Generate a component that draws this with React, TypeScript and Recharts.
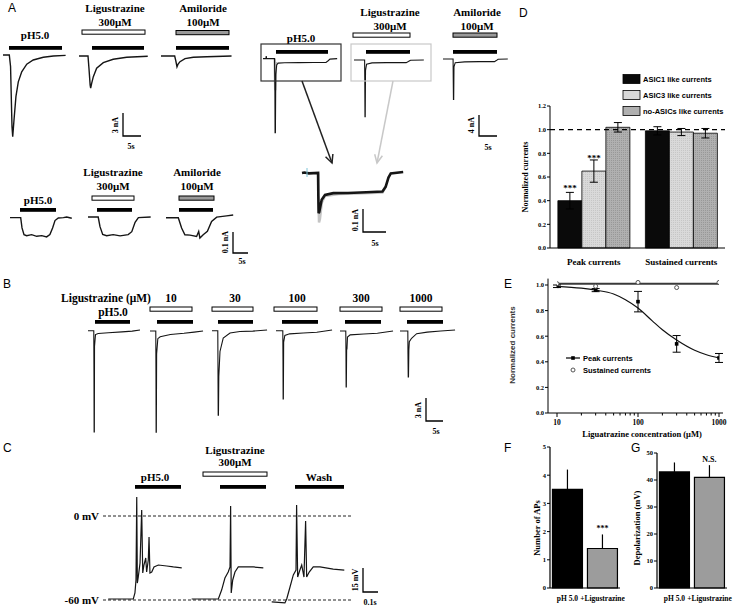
import React from "react";
import { LineChart, Line, XAxis, YAxis, BarChart, Bar, Cell, ErrorBar, ReferenceLine, LabelList } from "recharts";

const SERIF = '"Liberation Serif", "Times New Roman", serif';
const SANS = '"Liberation Sans", Arial, sans-serif';
const INK = "#151515";

type P = [number, number]; // [time s, value]

// ---- A (top): pH 5.0 / ligustrazine / amiloride, nA
const aPh: P[] = [[0, 0], [1.75, 0], [2.1, -1.5], [2.5, -9.35], [2.7, -10.65], [3.05, -8.5], [3.6, -5.4], [4.25, -3.5], [5.2, -2.2], [6.6, -1.2], [8.4, -0.65], [11.2, -0.3], [14, -0.13], [17.4, -0.05]];
const aLig: P[] = [[0, 0], [2.5, 0], [2.75, -1.5], [3.1, -3.8], [3.24, -4.2], [3.5, -3.6], [3.98, -2.7], [4.9, -1.6], [6.75, -0.87], [9.5, -0.43], [13.25, -0.17], [19.1, -0.04]];
const aAmi: P[] = [[0, 0], [3.8, 0], [4.1, -0.6], [4.44, -1.4], [4.7, -1.1], [5.28, -0.74], [6.67, -0.35], [8.97, -0.17], [12.7, -0.09], [19.6, 0]];

// ---- A (right): biphasic currents
const arPh: P[] = [[0, 0], [0.8, 0], [0.9, 0.5], [1.0, 0], [3.2, 0], [3.3, -5], [3.35, -14.1], [3.45, -14.1], [3.55, -3], [3.8, -1.2], [4.2, -0.85], [6, -0.78], [10, -0.76], [14, -0.74], [17.5, -0.72], [18.1, -0.4], [18.6, -0.1], [20.6, 0]];
const arPhGray: P[] = [[3.25, 0], [3.4, -6], [3.6, -1], [4, -0.8]];
const arLig: P[] = [[0, 0], [2.95, 0], [3.0, -4], [3.05, -10.8], [3.12, -10.8], [3.2, -2], [3.5, -0.8], [5, -0.55], [9, -0.5], [14.5, -0.5], [15.1, -0.3], [15.7, -0.05], [19.4, 0]];
const arAmi: P[] = [[0, 0], [2.8, 0], [2.85, -4], [2.9, -7.7], [2.97, -7.7], [3.05, -1.5], [3.4, -0.7], [6, -0.55], [10, -0.5], [14.3, -0.5], [14.8, -0.3], [15.3, -0.05], [18, 0]];
const insetGray: P[] = [[3.5, 0], [3.55, -0.1], [3.7, -0.215], [3.9, -0.2], [4.3, -0.13], [5, -0.1], [8, -0.092], [12, -0.09], [17.5, -0.085], [18.2, -0.06]];
const insetBlack: P[] = [[0, 0], [0.5, 0.002], [1.5, -0.002], [3.5, 0], [3.55, -0.1], [3.62, -0.175], [3.75, -0.17], [4.28, -0.117], [5, -0.096], [6.8, -0.088], [10, -0.087], [14, -0.084], [17.5, -0.081], [18.2, -0.06], [18.8, -0.02], [19.3, -0.002], [22, 0.004]];

// ---- A (second row): small sustained currents
const a2Ph: P[] = [[0, 0], [3.56, 0], [4, -0.049], [4.67, -0.081], [5.56, -0.086], [7.2, -0.081], [8.9, -0.089], [10.6, -0.086], [12.2, -0.092], [13.3, -0.081], [14.2, -0.049], [15, -0.014], [16.1, -0.002], [17.8, 0], [18.9, 0.003], [20.6, -0.003]];
const a2Lig: P[] = [[0, 0], [3.4, 0], [4, -0.046], [4.9, -0.083], [6.2, -0.089], [8.4, -0.084], [10.7, -0.09], [13.4, -0.084], [14.6, -0.07], [15.7, -0.025], [16.8, -0.003], [20.9, 0]];
const a2Ami: P[] = [[0, 0], [4.1, 0], [5.2, -0.049], [6.3, -0.081], [8, -0.083], [10.2, -0.089], [10.9, -0.065], [11.3, -0.097], [12.4, -0.081], [13.8, -0.065], [15.2, -0.018], [16.9, 0.003], [20.2, 0.009], [22.4, 0.013]];

// ---- B: dose series
const bConc = ["10", "30", "100", "300", "1000"];
const bPh: P[] = [[0, 0], [1.7, 0], [1.76, -6], [1.8, -13.2], [1.86, -13.2], [1.92, -2], [2.2, -0.5], [3, -0.35], [6, -0.25], [10, -0.15], [13, -0.05], [15.3, 0.1]];
const b10: P[] = [[0, 0], [1.7, 0], [1.76, -6], [1.8, -13.2], [1.86, -13.2], [1.95, -3], [2.3, -1], [3, -0.75], [6, -0.45], [10, -0.3], [13, -0.15], [15.6, 0]];
const b30: P[] = [[0, 0], [1.7, 0], [1.76, -5], [1.82, -11], [1.9, -11], [2.0, -6], [2.35, -2.7], [3.3, -0.95], [5.3, -0.3], [8.2, -0.1], [12, -0.05], [16.2, 0.1]];
const b100: P[] = [[0, 0], [2.0, 0], [2.06, -4], [2.1, -8.9], [2.16, -8.9], [2.25, -1.5], [2.6, -0.6], [4, -0.4], [8, -0.3], [12, -0.2], [16.5, 0.1]];
const b300: P[] = [[0, 0], [1.7, 0], [1.76, -3], [1.8, -7.3], [1.86, -7.3], [1.95, -2.5], [2.05, -2.3], [2.2, -0.8], [3, -0.5], [7, -0.4], [11, -0.3], [15.6, 0]];
const b1000: P[] = [[0, 0], [2.3, 0], [2.35, -3], [2.42, -6], [2.5, -6], [2.6, -2.5], [2.74, -1.4], [3.4, -0.95], [4.9, -0.35], [8, -0.15], [12, 0], [16.2, 0.13]];

// ---- C: membrane potential (s, mV)
const cPh: P[] = [[0.035, -59.3], [0.202, -59.3], [0.213, -55], [0.22, -45.7], [0.225, 13.6], [0.229, -47.9], [0.235, -43.6], [0.247, -33.6], [0.258, 4.3], [0.265, -40.7], [0.273, -35], [0.285, -30], [0.291, -40], [0.302, -31.4], [0.307, -15], [0.313, -40.7], [0.325, -40], [0.34, -36.4], [0.369, -35], [0.425, -35.7], [0.469, -36.4], [0.525, -37.1]];
const cLig: P[] = [[0.591, -59.3], [0.769, -59.3], [0.791, -52.9], [0.813, -44.3], [0.835, -40], [0.847, -36.4], [0.851, 7.1], [0.855, -55], [0.865, -45.7], [0.88, -40], [0.902, -36.4], [0.935, -36.4], [1.002, -36.4], [1.069, -37.1]];
const cWash: P[] = [[1.125, -61.4], [1.213, -62.1], [1.225, -59.3], [1.247, -50.7], [1.269, -42.1], [1.287, -38.6], [1.291, 7.9], [1.298, -43.6], [1.313, -38.6], [1.325, -35], [1.34, -43.6], [1.351, -3.6], [1.358, -43.6], [1.375, -40], [1.402, -36.4], [1.447, -36.4], [1.535, -37.9], [1.609, -38.6]];

// ---- D: normalized currents
const dGroups = ["Peak currents", "Sustained currents"];
const dSeries = ["ASIC1 like currents", "ASIC3 like currents", "no-ASICs like currents"];
const asic1 = [0.4, 0.99];
const asic1Err = [0.07, 0.035];
const asic3 = [0.65, 0.98];
const asic3Err = [0.094, 0.03];
const noAsic = [1.02, 0.97];
const noAsicErr = [0.04, 0.04];
const dSig = ["***", ""];

// ---- E: concentration-response
const eConc = [10, 30, 100, 300, 1000];
const ePeak = [0.99, 0.96, 0.87, 0.54, 0.43];
const ePeakErr = [0.01, 0.012, 0.08, 0.065, 0.035];
const eSust = [1.01, 0.99, 1.02, 0.98, 1.02];
const fitConc = [10, 20, 30, 50, 70, 100, 150, 200, 300, 500, 700, 1000];
const fitPeak = [0.99, 0.975, 0.96, 0.93, 0.885, 0.82, 0.72, 0.65, 0.57, 0.49, 0.455, 0.43];
const sustFit = [1.01, 1.01];
const eTicks = [10, 20, 30, 40, 50, 60, 70, 80, 90, 100, 200, 300, 400, 500, 600, 700, 800, 900, 1000];
const eMajor = [10, 100, 1000];

// ---- F / G
const fgGroups = ["pH 5.0", "+Ligustrazine"];
const fAPs = [3.5, 1.4];
const fErr = [0.7, 0.5];
const fSig = ["", "***"];
const gDep = [43, 41];
const gErr = [3.5, 4.5];
const gSig = ["", "N.S."];

const toTV = (pts: P[]) => pts.map(([t, v]) => ({ t, v }));

type Series = { pts: P[]; color?: string; w?: number };

const Trace = ({ x0, y0, sx, sy, series }: { x0: number; y0: number; sx: number; sy: number; series: Series[] }) => {
  const all = series.flatMap((s) => s.pts);
  const tMin = Math.min(...all.map((p) => p[0]));
  const tMax = Math.max(...all.map((p) => p[0]));
  const vMin = Math.min(...all.map((p) => p[1]));
  const vMax = Math.max(...all.map((p) => p[1]));
  const pad = 3;
  const width = (tMax - tMin) * sx + 2 * pad;
  const height = (vMax - vMin) * sy + 2 * pad;
  return (
    <div style={{ position: "absolute", left: x0 + tMin * sx - pad, top: y0 - vMax * sy - pad }}>
      <LineChart width={width} height={height} margin={{ top: 0, right: 0, bottom: 0, left: 0 }}>
        <XAxis type="number" dataKey="t" hide domain={[tMin - pad / sx, tMax + pad / sx]} allowDataOverflow />
        <YAxis type="number" hide domain={[vMin - pad / sy, vMax + pad / sy]} allowDataOverflow />
        {series.map((s, i) => (
          <Line key={i} data={toTV(s.pts)} dataKey="v" type="linear" dot={false} stroke={s.color ?? INK} strokeWidth={s.w ?? 1.1} isAnimationActive={false} />
        ))}
      </LineChart>
    </div>
  );
};

const T = ({ x, y, children, size = 11, rot, font = SERIF, bold = true, anchor = "middle", fill = "#000" }: any) => (
  <text x={x} y={y} fontSize={size} fontFamily={font} fontWeight={bold ? 700 : 400} textAnchor={anchor} dominantBaseline="central" fill={fill}
    transform={rot ? `rotate(${rot} ${x} ${y})` : undefined}>{children}</text>
);

const Stim = ({ x1, x2, y, kind = "solid" }: { x1: number; x2: number; y: number; kind?: string }) =>
  kind === "solid" ? <rect x={x1} y={y} width={x2 - x1} height={3.8} fill="#000" />
    : <rect x={x1} y={y} width={x2 - x1} height={4.2} fill={kind === "gray" ? "#9a9a9a" : "#fff"} stroke="#000" strokeWidth={1} />;

const Scale = ({ x, y, w, h }: { x: number; y: number; w: number; h: number }) => (
  <path d={`M${x} ${y - h} L${x} ${y} L${x + w} ${y}`} stroke="#000" strokeWidth={1.3} fill="none" />
);

const Arrow = ({ x1, y1, x2, y2, color }: any) => {
  const a = Math.atan2(y2 - y1, x2 - x1);
  const L = 9, s = 0.45;
  const p1 = `${x2 - L * Math.cos(a - s)},${y2 - L * Math.sin(a - s)}`;
  const p2 = `${x2 - L * Math.cos(a + s)},${y2 - L * Math.sin(a + s)}`;
  return (
    <g stroke={color} strokeWidth={1.5} fill="none">
      <line x1={x1} y1={y1} x2={x2} y2={y2} />
      <polyline points={`${p1} ${x2},${y2} ${p2}`} />
    </g>
  );
};

const axisTick = { fontSize: 6.5, fontFamily: SERIF, fontWeight: 700, fill: "#000" };

const CatTick = ({ dy, size }: { dy: number; size: number }) => (p: any) => (
  <text x={p.x} y={p.y + dy} textAnchor="middle" dominantBaseline="central" fontSize={size} fontFamily={SERIF} fontWeight={700} fill="#000">
    {p.payload.value}
  </text>
);

const LogTick = (p: any) => {
  const major = eMajor.includes(p.payload.value);
  return (
    <g>
      <line x1={p.x} x2={p.x} y1={p.y} y2={p.y + (major ? 4 : 2.5)} stroke="#000" />
      {major && (
        <text x={p.x} y={p.y + 9} textAnchor="middle" dominantBaseline="central" fontSize={7.5} fontFamily={SERIF} fontWeight={700} fill="#000">
          {p.payload.value}
        </text>
      )}
    </g>
  );
};

const dData = dGroups.map((g, i) => ({
  group: g,
  asic1: asic1[i], asic1Err: asic1Err[i], asic1Sig: dSig[i],
  asic3: asic3[i], asic3Err: asic3Err[i], asic3Sig: dSig[i],
  noAsic: noAsic[i], noAsicErr: noAsicErr[i],
}));
const dFills = ["#0a0a0a", "#d9d9d9", "#b0b0b0"];
const dPatFills = ["#0a0a0a", "url(#hatchLight)", "url(#hatchMid)"];

const fData = fgGroups.map((g, i) => ({ group: g, v: fAPs[i], err: [0, fErr[i]], sig: fSig[i] }));
const gData = fgGroups.map((g, i) => ({ group: g, v: gDep[i], err: [0, gErr[i]], sig: gSig[i] }));
const fgFills = ["#000", "#9c9c9c"];

const ePeakData = eConc.map((c, i) => ({ c, v: ePeak[i], e: ePeakErr[i] }));
const eSustData = eConc.map((c, i) => ({ c, v: eSust[i] }));
const eFitData = fitConc.map((c, i) => ({ c, v: fitPeak[i] }));
const eSustFitData = [{ c: eConc[0], v: sustFit[0] }, { c: eConc[eConc.length - 1], v: sustFit[1] }];

const PanelD = () => (
  <div style={{ position: "absolute", left: 505, top: 70 }}>
    <BarChart width={228} height={200} data={dData} margin={{ top: 36, right: 8, left: 0, bottom: 0 }} barCategoryGap="9%" barGap={0}>
      <defs>
        <pattern id="hatchLight" width="2" height="2" patternUnits="userSpaceOnUse">
          <rect width="2" height="2" fill={dFills[1]} />
          <rect width="1" height="1" fill="#c6c6c6" />
        </pattern>
        <pattern id="hatchMid" width="2" height="2" patternUnits="userSpaceOnUse">
          <rect width="2" height="2" fill={dFills[2]} />
          <rect width="1" height="1" fill="#989898" />
        </pattern>
      </defs>
      <XAxis dataKey="group" height={22} tickLine={false} tickSize={0} tickMargin={0} interval={0} axisLine={{ stroke: "#000" }} tick={CatTick({ dy: 14, size: 9 })} />
      <YAxis width={45} domain={[0, 1.2]} ticks={[0, 0.2, 0.4, 0.6, 0.8, 1.0, 1.2]} tickFormatter={(v: number) => v.toFixed(1)} tick={axisTick} tickSize={3} tickMargin={1} axisLine={{ stroke: "#000" }} tickLine={{ stroke: "#000" }} />
      <ReferenceLine y={1} stroke="#000" strokeDasharray="5 4" strokeWidth={1.2} />
      <Bar dataKey="asic1" fill={dPatFills[0]} stroke="#000" strokeWidth={0.8} isAnimationActive={false}>
        <ErrorBar dataKey="asic1Err" width={4} stroke="#000" strokeWidth={1} />
        <LabelList dataKey="asic1Sig" position="top" offset={10} fontSize={9} fontFamily={SERIF} fontWeight={700} fill="#000" />
      </Bar>
      <Bar dataKey="asic3" fill={dPatFills[1]} stroke="#000" strokeWidth={0.8} isAnimationActive={false}>
        <ErrorBar dataKey="asic3Err" width={4} stroke="#000" strokeWidth={1} />
        <LabelList dataKey="asic3Sig" position="top" offset={10} fontSize={9} fontFamily={SERIF} fontWeight={700} fill="#000" />
      </Bar>
      <Bar dataKey="noAsic" fill={dPatFills[2]} stroke="#000" strokeWidth={0.8} isAnimationActive={false}>
        <ErrorBar dataKey="noAsicErr" width={4} stroke="#000" strokeWidth={1} />
      </Bar>
    </BarChart>
  </div>
);

const PanelE = () => (
  <div style={{ position: "absolute", left: 505, top: 270 }}>
    <LineChart width={228} height={168} margin={{ top: 8.6, right: 10, left: 0, bottom: 0 }}>
      <XAxis type="number" dataKey="c" scale="log" domain={[10, 1000]} ticks={eTicks} interval={0} allowDataOverflow height={25}
        padding={{ left: 9, right: 4 }} tickLine={false} tickSize={0} tickMargin={0} axisLine={{ stroke: "#000" }} tick={LogTick} />
      <YAxis type="number" width={43} domain={[0, 1.05]} ticks={[0, 0.2, 0.4, 0.6, 0.8, 1.0]} tickFormatter={(v: number) => v.toFixed(1)}
        tick={axisTick} tickSize={3} tickMargin={1} axisLine={{ stroke: "#000" }} tickLine={{ stroke: "#000" }} />
      <Line data={eSustFitData} dataKey="v" type="linear" stroke="#3a3a3a" strokeWidth={2} dot={false} isAnimationActive={false} />
      <Line data={eFitData} dataKey="v" type="monotone" stroke="#111" strokeWidth={1.2} dot={false} isAnimationActive={false} />
      <Line data={ePeakData} dataKey="v" stroke="none" isAnimationActive={false}
        dot={(p: any) => <rect key={`pk${p.index}`} x={p.cx - 1.8} y={p.cy - 1.8} width={3.6} height={3.6} fill="#000" />}>
        <ErrorBar dataKey="e" width={4} stroke="#000" strokeWidth={1} direction="y" />
      </Line>
      <Line data={eSustData} dataKey="v" stroke="none" isAnimationActive={false} dot={{ r: 2, fill: "#fff", stroke: "#555", strokeWidth: 1 }} />
    </LineChart>
  </div>
);

const SmallBars = ({ left, top, width, data, domain, ticks, mTop, sigOffset }: any) => (
  <div style={{ position: "absolute", left, top }}>
    <BarChart width={width} height={168} data={data} margin={{ top: mTop, right: width - 115, left: 0, bottom: 0 }} barCategoryGap="7%">
      <XAxis dataKey="group" height={20} tickLine={false} tickSize={0} tickMargin={0} interval={0} axisLine={{ stroke: "#000", strokeWidth: 1.2 }} tick={CatTick({ dy: 10, size: 7.5 })} />
      <YAxis width={45} domain={domain} ticks={ticks} tick={axisTick} tickSize={3} tickMargin={1} axisLine={{ stroke: "#000", strokeWidth: 1.2 }} tickLine={{ stroke: "#000" }} />
      <Bar dataKey="v" stroke="#000" strokeWidth={1.2} isAnimationActive={false}>
        {data.map((_: any, i: number) => <Cell key={i} fill={fgFills[i]} />)}
        <ErrorBar dataKey="err" width={0} stroke="#000" strokeWidth={1.2} />
        <LabelList dataKey="sig" position="top" offset={sigOffset} fontSize={8} fontFamily={SERIF} fontWeight={700} fill="#000" />
      </Bar>
    </BarChart>
  </div>
);

export default function App() {
  const bStarts = [88, 150, 212, 276, 340, 400];
  const bSeries = [bPh, b10, b30, b100, b300, b1000];
  const bLabelX = [171, 235, 297, 361, 421];
  const bOpen = [[150, 192], [212, 253], [274, 317], [340, 382], [400, 442]];
  const bSolid = [[95, 130], [157, 193], [218, 253], [282, 318], [345, 381], [407, 443]];
  return (
    <div style={{ position: "absolute", left: 0, top: 0, width: 733, height: 609, background: "#fff", overflow: "hidden" }}>
      {/* A top row */}
      <Trace x0={3} y0={55} sx={3.6} sy={7.67} series={[{ pts: aPh, w: 1.4 }]} />
      <Trace x0={79} y0={56} sx={3.6} sy={7.67} series={[{ pts: aLig, w: 1.4 }]} />
      <Trace x0={161} y0={56} sx={3.6} sy={7.67} series={[{ pts: aAmi, w: 1.4 }]} />
      <Trace x0={263} y0={59} sx={3.6} sy={5.25} series={[{ pts: arPhGray, color: "#bbb", w: 2.5 }, { pts: arPh }]} />
      <Trace x0={354} y0={60} sx={3.6} sy={5.25} series={[{ pts: arLig }]} />
      <Trace x0={443} y0={59} sx={3.6} sy={5.25} series={[{ pts: arAmi }]} />
      <Trace x0={302} y0={173} sx={4.6} sy={230} series={[{ pts: insetGray, color: "#c4c4c4", w: 2.5 }, { pts: insetBlack, w: 2.6 }]} />
      {/* A second row */}
      <Trace x0={10} y0={218} sx={3} sy={210} series={[{ pts: a2Ph, w: 1.4 }]} />
      <Trace x0={88} y0={217} sx={3} sy={210} series={[{ pts: a2Lig, w: 1.4 }]} />
      <Trace x0={166} y0={218} sx={3} sy={210} series={[{ pts: a2Ami, w: 1.4 }]} />
      {/* B */}
      {bSeries.map((s, i) => (
        <Trace key={i} x0={bStarts[i]} y0={331} sx={3.4} sy={7.67} series={[{ pts: s }]} />
      ))}
      {/* C */}
      <div style={{ position: "absolute", left: 103, top: 488 }}>
        <LineChart width={250} height={119} margin={{ top: 0, right: 0, bottom: 0, left: 0 }}>
          <XAxis type="number" dataKey="t" hide domain={[0, 1.667]} allowDataOverflow />
          <YAxis type="number" hide domain={[-65, 20]} allowDataOverflow />
          <ReferenceLine y={0} stroke="#222" strokeDasharray="3 2" />
          <ReferenceLine y={-60} stroke="#222" strokeDasharray="3 2" />
          {[cPh, cLig, cWash].map((d, i) => (
            <Line key={i} data={toTV(d)} dataKey="v" type="linear" dot={false} stroke={INK} strokeWidth={1.2} isAnimationActive={false} />
          ))}
        </LineChart>
      </div>
      <PanelD />
      <PanelE />
      <SmallBars left={505} top={440} width={120} data={fData} domain={[0, 5]} ticks={[0, 1, 2, 3, 4, 5]} mTop={7} sigOffset={18} />
      <SmallBars left={612} top={440} width={121} data={gData} domain={[0, 50]} ticks={[0, 10, 20, 30, 40, 50]} mTop={13} sigOffset={15} />

      <svg width={733} height={609} style={{ position: "absolute", left: 0, top: 0, pointerEvents: "none" }}>
        {/* panel letters */}
        <T x={8} y={8} font={SANS} bold={false} size={12} anchor="start">A</T>
        <T x={3} y={284} font={SANS} bold={false} size={12} anchor="start">B</T>
        <T x={3} y={448} font={SANS} bold={false} size={12} anchor="start">C</T>
        <T x={519} y={13} font={SANS} bold={false} size={12} anchor="start">D</T>
        <T x={504} y={284} font={SANS} bold={false} size={12} anchor="start">E</T>
        <T x={504} y={448} font={SANS} bold={false} size={12} anchor="start">F</T>
        <T x={631} y={448} font={SANS} bold={false} size={12} anchor="start">G</T>

        {/* A top-left */}
        <T x={35} y={35}>pH5.0</T>
        <T x={115} y={8}>Ligustrazine</T>
        <T x={115} y={22}>300μM</T>
        <T x={203} y={8}>Amiloride</T>
        <T x={203} y={22}>100μM</T>
        <Stim x1={82} x2={145} y={30} kind="open" />
        <Stim x1={176} x2={229} y={30.5} kind="gray" />
        <Stim x1={9} x2={62} y={46} />
        <Stim x1={92} x2={144} y={46} />
        <Stim x1={176} x2={229} y={46} />
        <Scale x={123} y={136} w={18} h={23} />
        <T x={115} y={125} size={8} rot={-90}>3 nA</T>
        <T x={131} y={146} size={8}>5s</T>

        {/* A right */}
        <T x={390} y={12}>Ligustrazine</T>
        <T x={390} y={26}>300μM</T>
        <Stim x1={353} x2={410} y={33} kind="open" />
        <T x={301} y={38}>pH5.0</T>
        <rect x={261} y={44} width={80} height={37} fill="none" stroke="#333" strokeWidth={1.2} />
        <Stim x1={276} x2={328} y={50} />
        <rect x={351} y={44} width={80} height={37} fill="none" stroke="#c8c8c8" strokeWidth={1.2} />
        <Stim x1={366} x2={410} y={50} />
        <T x={477} y={12}>Amiloride</T>
        <T x={477} y={26}>100μM</T>
        <Stim x1={453} x2={497} y={33} kind="gray" />
        <Stim x1={453} x2={497} y={50} />
        <Scale x={479} y={136} w={18} h={21} />
        <T x={471} y={125} size={8} rot={-90}>4 nA</T>
        <T x={488} y={147} size={8}>5s</T>
        <Arrow x1={302} y1={81} x2={332} y2={163} color="#222" />
        <Arrow x1={393} y1={81} x2={377} y2={163} color="#c8c8c8" />
        <line x1={307} y1={168} x2={307} y2={177} stroke="#7fc4d8" strokeWidth={1} />
        <Scale x={363} y={232} w={23} h={23} />
        <T x={355} y={220} size={8} rot={-90}>0.1 nA</T>
        <T x={375} y={243} size={8}>5s</T>

        {/* A second row */}
        <T x={38} y={200}>pH5.0</T>
        <Stim x1={20} x2={56} y={208} />
        <T x={113} y={172}>Ligustrazine</T>
        <T x={113} y={186}>300μM</T>
        <Stim x1={92} x2={134} y={196} kind="open" />
        <Stim x1={97} x2={132} y={208} />
        <T x={197} y={172}>Amiloride</T>
        <T x={197} y={186}>100μM</T>
        <Stim x1={179} x2={214} y={196} kind="gray" />
        <Stim x1={179} x2={213} y={208} />
        <Scale x={233} y={253} w={15} h={21} />
        <T x={225} y={242} size={8} rot={-90}>0.1 nA</T>
        <T x={242} y={261} size={8}>5s</T>

        {/* B */}
        <T x={106} y={298} size={11.5}>Ligustrazine (μM)</T>
        <T x={113} y={312} size={11.5}>pH5.0</T>
        {bConc.map((c, i) => <T key={c} x={bLabelX[i]} y={298} size={11.5}>{c}</T>)}
        {bOpen.map(([a, b], i) => <Stim key={i} x1={a} x2={b} y={307} kind="open" />)}
        {bSolid.map(([a, b], i) => <Stim key={i} x1={a} x2={b} y={320} />)}
        <Scale x={426} y={421} w={17} h={23} />
        <T x={418} y={410} size={8} rot={-90}>3 nA</T>
        <T x={436} y={431} size={8}>5s</T>

        {/* C */}
        <T x={235} y={450}>Ligustrazine</T>
        <T x={235} y={462}>300μM</T>
        <T x={155} y={477}>pH5.0</T>
        <T x={319} y={477}>Wash</T>
        <Stim x1={203} x2={267} y={472} kind="open" />
        <Stim x1={135} x2={181} y={485} />
        <Stim x1={220} x2={266} y={485} />
        <Stim x1={295} x2={344} y={485} />
        <T x={99} y={516} anchor="end">0 mV</T>
        <T x={99} y={600} anchor="end">-60 mV</T>
        <Scale x={363} y={592} w={15} h={24} />
        <T x={355} y={580} size={8} rot={-90}>15 mV</T>
        <T x={370} y={602} size={8}>0.1s</T>

        {/* D */}
        <T x={525} y={177} size={8} rot={-90}>Normalized currents</T>
        {dSeries.map((s, i) => (
          <g key={s}>
            <rect x={623} y={74.5 + i * 16} width={17} height={9} fill={dFills[i]} stroke="#000" strokeWidth={0.8} />
            <T x={643} y={79 + i * 16} size={7.5} font={SANS} anchor="start">{s}</T>
          </g>
        ))}

        {/* E */}
        <T x={512} y={345} size={8} font={SANS} rot={-90} fill="#333">Normalized currents</T>
        <T x={642} y={434} size={8.5}>Liguatrazine concentration (μM)</T>
        <line x1={566} y1={358} x2={580} y2={358} stroke="#000" strokeWidth={1.2} />
        <rect x={571.2} y={356.2} width={3.6} height={3.6} fill="#000" />
        <T x={583} y={358} size={7.5} font={SANS} anchor="start">Peak currents</T>
        <circle cx={573} cy={370} r={2} fill="#fff" stroke="#555" />
        <T x={583} y={370} size={7.5} font={SANS} anchor="start">Sustained currents</T>

        {/* F / G */}
        <T x={537} y={528} size={8.5} rot={-90}>Number of APs</T>
        <T x={637} y={528} size={8.5} rot={-90}>Depolarization (mV)</T>
      </svg>
    </div>
  );
}
